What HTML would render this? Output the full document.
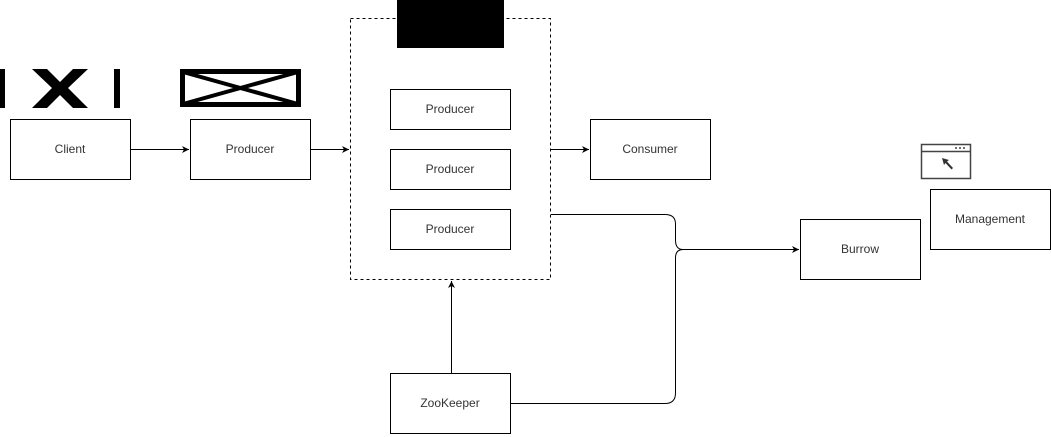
<!DOCTYPE html>
<html><head><style>html,body{margin:0;padding:0;background:#fff;}svg{display:block;}</style></head>
<body>
<svg width="1051" height="437" xmlns="http://www.w3.org/2000/svg" font-family="Liberation Sans, sans-serif" font-size="12">
<defs><marker id="a" markerWidth="8" markerHeight="8" refX="7" refY="4" orient="auto" markerUnits="userSpaceOnUse"><path d="M0,0.5 L7,4 L0,7.5 L2,4 Z" fill="#000"/></marker></defs>
<rect x="350.5" y="18.5" width="200" height="261" fill="none" stroke="#000" stroke-dasharray="3,3"/>
<rect x="397" y="0" width="107" height="48" fill="#000"/>
<!-- IXI -->
<rect x="0" y="69" width="5" height="39" fill="#000"/>
<polygon points="32,69 47,69 60,82 73,69 88,69 68,88 88,108 73,108 60,95 47,108 32,108 52,88" fill="#000"/>
<rect x="114" y="69" width="6" height="39" fill="#000"/>
<!-- crossed rect -->
<rect x="182.5" y="71.5" width="116" height="33" fill="none" stroke="#000" stroke-width="5"/>
<path d="M183,72 L298,104 M183,104 L298,72" stroke="#000" stroke-width="4"/>
<g fill="#fff" stroke="#000">
<rect x="10.5" y="119.5" width="120" height="60"/>
<rect x="190.5" y="119.5" width="120" height="60"/>
<rect x="390.5" y="89.5" width="120" height="40"/>
<rect x="390.5" y="149.5" width="120" height="40"/>
<rect x="390.5" y="209.5" width="120" height="40"/>
<rect x="590.5" y="119.5" width="120" height="60"/>
<rect x="800.5" y="219.5" width="120" height="60"/>
<rect x="930.5" y="189.5" width="120" height="60"/>
<rect x="390.5" y="373.5" width="120" height="60"/>
</g>
<g fill="#333" text-anchor="middle">
<text x="70" y="153">Client</text>
<text x="250" y="153">Producer</text>
<text x="450" y="113">Producer</text>
<text x="450" y="173">Producer</text>
<text x="450" y="233">Producer</text>
<text x="650" y="153">Consumer</text>
<text x="860" y="253">Burrow</text>
<text x="990" y="223">Management</text>
<text x="450" y="407">ZooKeeper</text>
</g>
<!-- window icon -->
<rect x="921.5" y="144.5" width="49" height="34" fill="#fff" stroke="#444" stroke-width="1.5"/>
<line x1="921" y1="151.5" x2="971" y2="151.5" stroke="#444" stroke-width="1.5"/>
<circle cx="956" cy="148" r="1" fill="#444"/><circle cx="960" cy="148" r="1" fill="#444"/><circle cx="964" cy="148" r="1" fill="#444"/>
<path d="M942,158 L949,160 L947,161.5 L953,168 L951.5,169.5 L945.5,163 L944,165 Z" fill="#333"/>
<g fill="none" stroke="#000">
<line x1="130" y1="149.5" x2="189" y2="149.5" marker-end="url(#a)"/>
<line x1="310" y1="149.5" x2="349" y2="149.5" marker-end="url(#a)"/>
<line x1="550" y1="149.5" x2="589" y2="149.5" marker-end="url(#a)"/>
<line x1="451.5" y1="373" x2="451.5" y2="281" marker-end="url(#a)"/>
<path d="M551,214.5 H665 Q675.5,214.5 675.5,224 V240 Q675.5,249.5 683,249.5 H799" marker-end="url(#a)"/>
<path d="M510,403.5 H665 Q675.5,403.5 675.5,393 V258 Q675.5,249.5 683,249.5"/>
</g>
</svg>
</body></html>
